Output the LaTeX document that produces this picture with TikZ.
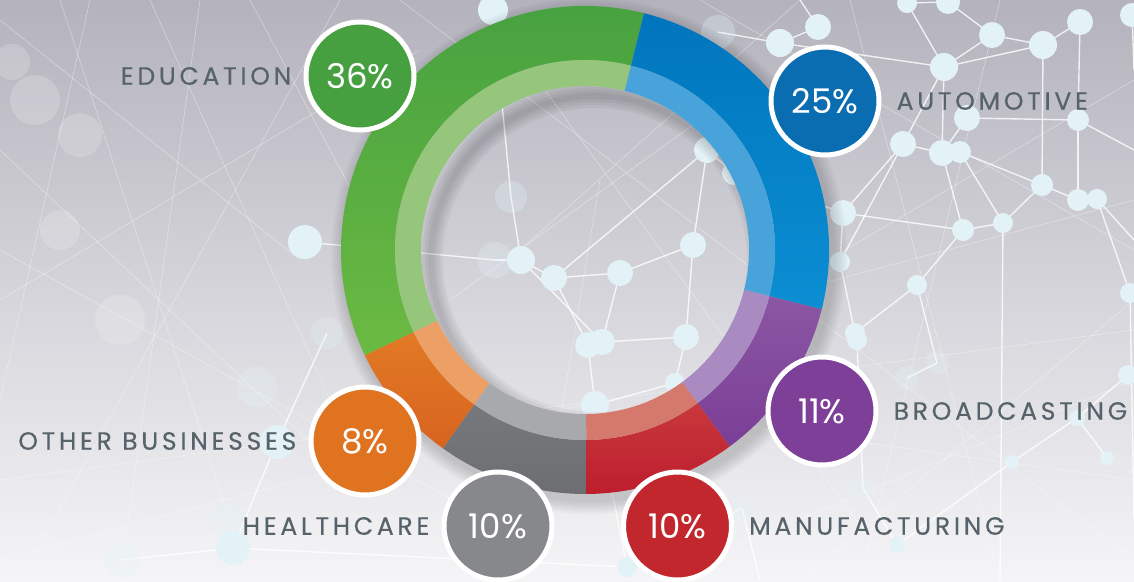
\documentclass[tikz,border=0pt]{standalone}
\usepackage{fontspec}
\setmainfont{Poppins}
\newfontfamily\lblfont[LetterSpace=15,FakeBold=0.4]{Poppins}
\usetikzlibrary{positioning,calc}

\definecolor{bgtop}{HTML}{B4B3BD}
\definecolor{bgmid}{HTML}{D0CFD6}
\definecolor{bgbot}{HTML}{F5F5F7}
\definecolor{lblgray}{HTML}{56636A}
\definecolor{dotblue}{HTML}{E3F2F7}
% ring colours: A top, B bottom, L inner band, C badge
\definecolor{eduA}{HTML}{45A040}\definecolor{eduB}{HTML}{6BBA42}\definecolor{eduL}{HTML}{95C67C}\definecolor{eduC}{HTML}{46A040}
\definecolor{autA}{HTML}{0075BD}\definecolor{autB}{HTML}{0B8ED3}\definecolor{autL}{HTML}{47A3D9}\definecolor{autC}{HTML}{0B6DB1}
\definecolor{brdA}{HTML}{8B56A3}\definecolor{brdB}{HTML}{7A3E96}\definecolor{brdL}{HTML}{A98BC1}\definecolor{brdC}{HTML}{7E3F98}
\definecolor{manA}{HTML}{C8383C}\definecolor{manB}{HTML}{BD1E2D}\definecolor{manL}{HTML}{D4796C}\definecolor{manC}{HTML}{C1272D}
\definecolor{hltA}{HTML}{77787B}\definecolor{hltB}{HTML}{6D6E71}\definecolor{hltL}{HTML}{A7A9AC}\definecolor{hltC}{HTML}{87888C}
\definecolor{othA}{HTML}{E27A25}\definecolor{othB}{HTML}{D8631F}\definecolor{othL}{HTML}{ECA065}\definecolor{othC}{HTML}{E0731F}

\begin{document}
\begin{tikzpicture}[x=1pt,y=1pt,
    pct/.style={circle, draw=white, line width=5pt, minimum size=108pt, inner sep=0pt,
      text=white, font=\fontsize{34}{34}\selectfont},
    lbl/.style={inner sep=0pt, text=lblgray, font=\lblfont\fontsize{25}{25}\selectfont},
    net/.style={draw=white, line width=1.4pt, opacity=.8},
    faint/.style={draw=white, line width=.5pt, opacity=.45},
    dot/.style={fill=dotblue}]

    % Background
    \useasboundingbox (0,0) rectangle (1134,-581);
    \shade[top color=bgtop, middle color=bgmid, bottom color=bgbot] (0,0) rectangle (1134,-581);

    \foreach \xa/\ya/\xb/\yb in {0/20/300/260, 60/0/250/581, 150/0/330/400, 200/0/120/581,
        0/300/420/50, 0/150/350/480, 90/0/0/400, 250/0/560/581, 0/480/1134/330, 0/560/600/400,
        400/0/1134/560, 700/0/1134/250, 850/0/1000/581, 1134/380/650/581, 0/250/600/581,
        340/0/20/581, 1134/80/760/300, 1000/0/860/581, 1134/480/700/420, 480/0/900/581,
        520/250/800/0, 450/300/700/120, 600/180/560/420, 760/300/1134/200, 800/581/1134/300}
      \draw[faint] (\xa,-\ya) -- (\xb,-\yb);

    % Network
    \foreach \n/\x/\y in {r1/907/3, r2/948/2, r3/992/35, r4/1043/45, r5/1080/22, r6/1132/15,
        r7/944/67, r8/967/118, r9/1078/120, r10/903/144, r11/942/153, r12/960/152, r13/1042/185,
        r14/1078/200, r15/1097/199, r16/843/213, r17/1003/223, r18/963/230, r19/840/262,
        r20/917/285, r21/1130/293, r22/855/333, r23/780/43, r24/818/27,
        c1/707/150, c2/734/173, c3/511/197, c4/693/245, c5/521/260, c6/554/278, c7/620/273,
        c8/495/260, c9/588/345, c10/602/342, c11/686/337, c12/675/383, c13/595/405,
        l1/305/242, l2/493/10, l3/718/32, l4/277/442, l5/233/548, l6/122/560, l7/227/520,
        l8/257/387, l9/327/333, l10/742/508, l11/863/488, l12/897/545, l13/627/567,
        b1/857/340, b2/1128/375, b3/907/378, b4/937/363, b5/1077/418, b6/1012/462, b7/1107/458,
        e1/1134/70, e2/1134/240, e3/1134/150, e4/800/0, e5/1000/581, e6/1134/520, e7/760/581}
      \coordinate (\n) at (\x,-\y);

    \foreach \a/\b in {r1/r7, r2/r3, r7/r3, r7/r4, r4/r5, r4/r3, r7/r10, r7/r11, r10/r11,
        r11/r12, r12/r13, r13/r14, r14/r15, r8/r11, r9/r14, r9/r5, r4/r13, r13/r17, r17/r18,
        r18/r11, r16/r10, r16/r19, r18/r20, r20/r22, r16/r18, r19/r22, r15/r21, r8/r9, r23/r7,
        r24/r23, r1/r2, r6/e1, r9/e3, r15/e2, r21/e6, r24/e4, r17/e5, r12/r17, r10/r19,
        c1/c2, c1/c4, c4/c7, c7/c6, c6/c5, c5/c8, c4/c11, c11/c10, c10/c9, c9/c6, c9/c13,
        c12/c11, c12/c13, c7/c10, c3/c5, c2/r16, c13/l13, c1/c6, c5/c10,
        l1/c8, l4/l5, l4/l9, l5/l13, l5/l6, l2/c3, l3/r23,
        b1/r22, b1/l11, b3/b4, b2/b5, b5/b6, b6/l12, b7/b5, l12/l11, l10/l13, l10/e7, b4/r20}
      \draw[net] (\a) -- (\b);

    \foreach \n/\r in {r1/10, r2/12, r3/13, r4/14, r5/13, r6/12, r7/14, r8/13, r9/11, r10/13,
        r11/13, r12/11, r13/11, r14/11, r15/10, r16/13, r17/10, r18/11, r19/10, r20/10, r21/10,
        r22/10, r23/14, r24/13, c1/13, c2/12, c4/13, c5/14, c6/13, c7/13, c9/13, c10/13,
        c11/13, c12/10, c13/14, l1/17, l2/15, l4/17, l5/17, l12/8, l13/10, b1/10, b2/10,
        b5/8, b6/7, b7/7}
      \fill[dot] (\n) circle (\r);
    \foreach \n/\r in {c3/16, c8/18, l3/17, l6/18, l7/17, l8/20, l9/16, l10/13, l11/13,
        b3/12, b4/12}
      \fill[dot, opacity=.3] (\n) circle (\r);
    \foreach \x/\y/\r in {35/100/25, 80/135/22, 12/62/18, 120/320/25, 60/230/20}
      \fill[white, opacity=.18] (\x,-\y) circle (\r);

    % Ring shadow
    \coordinate (c) at (585,-250);
    \foreach \k in {2,4,...,14}
      \fill[black, opacity=.025, even odd rule] ($(c)+(4,-6)$) circle (244+\k) (c) circle (170);
    \begin{scope}
      \clip (c) circle (164);
      \foreach \w in {6,12,18,24}
        \draw[black, opacity=.045, line width=\w pt] ($(c)+(10,-10)$) circle (164);
    \end{scope}

    % Ring segments
    \foreach \a/\b/\col in {76/205.6/edu, 205.6/234.4/oth, 234.4/270.4/hlt,
        270.4/306.4/man, 306.4/346/brd, 346/436/aut} {
      \shade[top color=\col A, bottom color=\col B]
        ($(c)+(\a:244)$) arc[start angle=\a, end angle=\b, radius=244]
        -- ($(c)+(\b:190)$) arc[start angle=\b, end angle=\a, radius=190] -- cycle;
      \fill[\col L]
        ($(c)+(\a:190)$) arc[start angle=\a, end angle=\b, radius=190]
        -- ($(c)+(\b:164)$) arc[start angle=\b, end angle=\a, radius=164] -- cycle;
    }

    % Badges and labels
    \node[pct, fill=eduC] (pEdu) at (360,-76) {36\%};
    \node[pct, fill=autC] (pAut) at (825,-101) {25\%};
    \node[pct, fill=brdC] (pBrd) at (822,-411) {11\%};
    \node[pct, fill=othC] (pOth) at (365,-441) {8\%};
    \node[pct, fill=hltC] (pHlt) at (498,-526) {10\%};
    \node[pct, fill=manC] (pMan) at (677.5,-526) {10\%};

    \node[lbl, left=12pt of pEdu] (tEdu) {EDUCATION};
    \node[lbl, right=15pt of pAut] (tAut) {AUTOMOTIVE};
    \node[lbl, right=15pt of pBrd] (tBrd) {BROADCASTING};
    \node[lbl, left=12pt of pOth] (tOth) {OTHER BUSINESSES};
    \node[lbl, left=12pt of pHlt] (tHlt) {HEALTHCARE};
    \node[lbl, right=15pt of pMan] (tMan) {MANUFACTURING};
\end{tikzpicture}
\end{document}
